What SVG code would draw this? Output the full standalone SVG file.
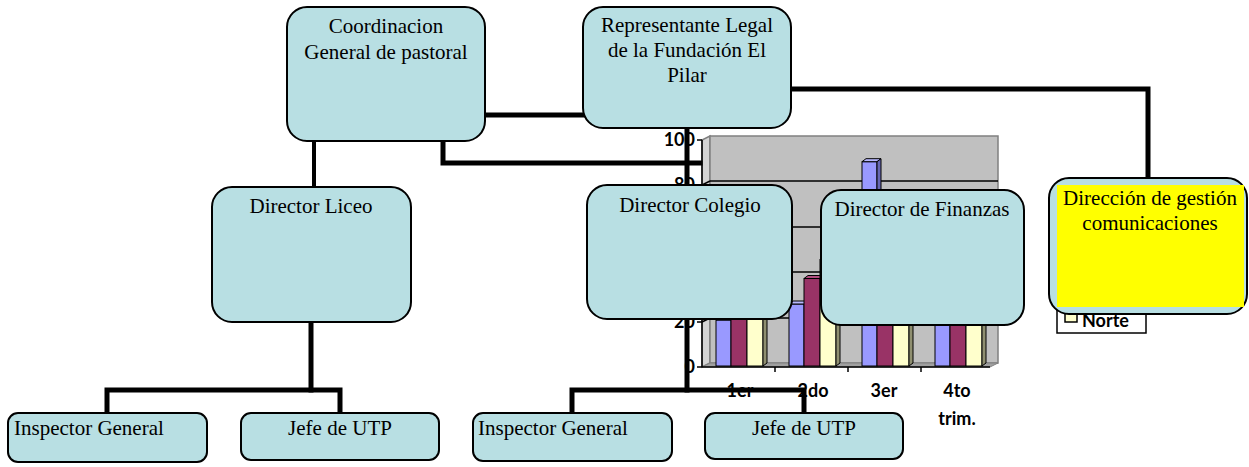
<svg xmlns="http://www.w3.org/2000/svg" width="1249" height="467" viewBox="0 0 1249 467">
<style>
.node{fill:#b8dfe3;stroke:#000;stroke-width:2}
.t{font-family:"Liberation Serif","Times New Roman",serif;font-size:21px;fill:#000}
.c{text-anchor:middle}
.ct{font-family:Lato,"Liberation Sans",sans-serif;font-weight:bold;font-size:18px;fill:#000}
.conn{fill:none;stroke:#000;stroke-width:5;stroke-linejoin:miter;stroke-linecap:square}
.grid{stroke:#000;stroke-width:1.5}
.b1{fill:#9999ff;stroke:#000;stroke-width:1}
.b1t{fill:#b8b8ff;stroke:#000;stroke-width:1}
.b1s{fill:#6666b3;stroke:#000;stroke-width:1}
.b2{fill:#993366;stroke:#000;stroke-width:1}
.b2t{fill:#b34d80;stroke:#000;stroke-width:1}
.b2s{fill:#6b2447;stroke:#000;stroke-width:1}
.b3{fill:#ffffcc;stroke:#000;stroke-width:1}
.b3t{fill:#ffffe6;stroke:#000;stroke-width:1}
.b3s{fill:#8f8f70;stroke:#000;stroke-width:1}
</style>

<g id="chart">
  <!-- side wall and back wall -->
  <polygon points="702,367 702,140 710,136 710,363" fill="#d4d4d4" stroke="#808080" stroke-width="1.5"/>
  <rect x="710" y="136" width="288" height="227" fill="#c0c0c0" stroke="#808080" stroke-width="1.5"/>
  <polygon points="702,367 710,363 998,363 990,367" fill="#a0a0a0" stroke="#808080" stroke-width="1"/>
  <g class="grid">
    <line x1="702" y1="185" x2="710" y2="181"/><line x1="710" y1="181" x2="998" y2="181"/>
    <line x1="702" y1="231" x2="710" y2="227"/><line x1="710" y1="227" x2="998" y2="227"/>
    <line x1="702" y1="276" x2="710" y2="272"/><line x1="710" y1="272" x2="998" y2="272"/>
    <line x1="702" y1="322" x2="710" y2="318"/><line x1="710" y1="318" x2="998" y2="318"/>
  </g>
  <!-- bars: 1er -->
  <rect class="b1" x="716" y="320" width="15" height="46"/>
  <polygon class="b1t" points="716,320 720,317 735,317 731,320"/>
  <rect class="b2" x="731" y="296.5" width="16" height="69.5"/>
  <polygon class="b2t" points="731,296.5 735,293.5 751,293.5 747,296.5"/>
  <rect class="b3" x="747" y="262" width="16" height="104"/>
  <polygon class="b3t" points="747,262 751,259 767,259 763,262"/>
  <polygon class="b3s" points="763,262 767,259 767,363 763,366"/>
  <!-- 2do -->
  <rect class="b1" x="789" y="304" width="15" height="62"/>
  <polygon class="b1t" points="789,304 793,301 808,301 804,304"/>
  <rect class="b2" x="804" y="278.5" width="16" height="87.5"/>
  <polygon class="b2t" points="804,278.5 808,275.5 824,275.5 820,278.5"/>
  <rect class="b3" x="820" y="259.5" width="16" height="106.5"/>
  <polygon class="b3t" points="820,259.5 824,256.5 840,256.5 836,259.5"/>
  <polygon class="b3s" points="836,259.5 840,256.5 840,363 836,366"/>
  <!-- 3er -->
  <rect class="b1" x="862" y="161.7" width="15" height="204.3"/>
  <polygon class="b1t" points="862,161.7 866,158.7 881,158.7 877,161.7"/>
  <polygon class="b1s" points="877,161.7 881,158.7 881,290 877,290"/>
  <rect class="b2" x="877" y="287.5" width="16" height="78.5"/>
  <polygon class="b2t" points="877,287.5 881,284.5 897,284.5 893,287.5"/>
  <rect class="b3" x="893" y="264" width="16" height="102"/>
  <polygon class="b3t" points="893,264 897,261 913,261 909,264"/>
  <polygon class="b3s" points="909,264 913,261 913,363 909,366"/>
  <!-- 4to -->
  <rect class="b1" x="935" y="320" width="15" height="46"/>
  <polygon class="b1t" points="935,320 939,317 954,317 950,320"/>
  <rect class="b2" x="950" y="294.3" width="16" height="71.7"/>
  <polygon class="b2t" points="950,294.3 954,291.3 970,291.3 966,294.3"/>
  <rect class="b3" x="966" y="266.3" width="16" height="99.7"/>
  <polygon class="b3t" points="966,266.3 970,263.3 986,263.3 982,266.3"/>
  <polygon class="b3s" points="982,266.3 986,263.3 986,363 982,366"/>
  <!-- axes -->
  <g stroke="#000" stroke-width="1.5">
    <line x1="702" y1="140" x2="702" y2="367"/>
    <line x1="702" y1="367" x2="990" y2="367"/>
    <line x1="697" y1="140" x2="702" y2="140"/>
    <line x1="697" y1="185" x2="702" y2="185"/>
    <line x1="697" y1="231" x2="702" y2="231"/>
    <line x1="697" y1="276" x2="702" y2="276"/>
    <line x1="697" y1="322" x2="702" y2="322"/>
    <line x1="697" y1="367" x2="702" y2="367"/>
    <line x1="775" y1="367" x2="775" y2="372"/>
    <line x1="848" y1="367" x2="848" y2="372"/>
    <line x1="921" y1="367" x2="921" y2="372"/>
  </g>
  <g class="ct" text-anchor="end">
    <text x="695" y="146">100</text>
    <text x="695" y="191">80</text>
    <text x="695" y="328">20</text>
    <text x="695" y="373">0</text>
  </g>
  <g class="ct" text-anchor="middle">
    <text x="740" y="397">1er</text>
    <text x="813" y="397">2do</text>
    <text x="884" y="397">3er</text>
    <text x="957" y="397">4to</text>
    <text x="957" y="425">trim.</text>
  </g>
  <!-- legend -->
  <rect x="1057" y="250" width="89" height="83" fill="#fff" stroke="#000" stroke-width="1.5"/>
  <rect x="1065" y="312" width="12" height="10" fill="#ffffcc" stroke="#000" stroke-width="1.5"/>
  <text class="ct" x="1082" y="327">Norte</text>
</g>

<g id="connectors" class="conn">
  <line x1="485" y1="115" x2="583" y2="115"/>
  <polyline points="443,141 443,163 700,163"/>
  <line x1="687" y1="128" x2="687" y2="390"/>
  <polyline points="572,413 572,390 804,390 804,413"/>
  <polyline points="791,89 1148,89 1148,178"/>
  <line x1="314" y1="141" x2="314" y2="187" stroke-width="4"/>
  <line x1="311" y1="322" x2="311" y2="390"/>
  <polyline points="107,413 107,390 340,390 340,413"/>
</g>

<g id="n-coordinacion">
  <rect class="node" x="287" y="7" width="198" height="134" rx="20"/>
  <text class="t c" x="386" y="33">Coordinacion</text>
  <text class="t c" x="386" y="59">General de pastoral</text>
</g>
<g id="n-representante">
  <rect class="node" x="583" y="7" width="208" height="121" rx="20"/>
  <text class="t c" x="687" y="32">Representante Legal</text>
  <text class="t c" x="687" y="57">de la Fundación El</text>
  <text class="t c" x="687" y="82">Pilar</text>
</g>
<g id="n-liceo">
  <rect class="node" x="212" y="187" width="199" height="135" rx="20"/>
  <text class="t c" x="311" y="213">Director Liceo</text>
</g>
<g id="n-colegio">
  <rect class="node" x="587" y="185" width="205" height="134" rx="20"/>
  <text class="t c" x="690" y="212">Director Colegio</text>
</g>
<g id="n-finanzas">
  <rect class="node" x="821" y="190" width="203" height="135" rx="20"/>
  <text class="t c" x="922" y="216">Director de Finanzas</text>
</g>
<g id="n-comunicaciones">
  <rect class="node" x="1049" y="178" width="198" height="136" rx="20"/>
  <rect x="1057" y="185" width="187" height="122" fill="#ffff00"/>
  <text class="t c" x="1150" y="205">Dirección de gestión</text>
  <text class="t c" x="1150" y="230">comunicaciones</text>
</g>
<g id="n-inspector-liceo">
  <rect class="node" x="8" y="413" width="199" height="49" rx="10"/>
  <text class="t" x="14" y="435">Inspector General</text>
</g>
<g id="n-jefe-liceo">
  <rect class="node" x="241" y="413" width="198" height="47" rx="10"/>
  <text class="t c" x="340" y="435">Jefe de UTP</text>
</g>
<g id="n-inspector-colegio">
  <rect class="node" x="473" y="413" width="199" height="48" rx="10"/>
  <text class="t" x="478" y="435">Inspector General</text>
</g>
<g id="n-jefe-colegio">
  <rect class="node" x="705" y="413" width="198" height="46" rx="10"/>
  <text class="t c" x="804" y="435">Jefe de UTP</text>
</g>
</svg>
